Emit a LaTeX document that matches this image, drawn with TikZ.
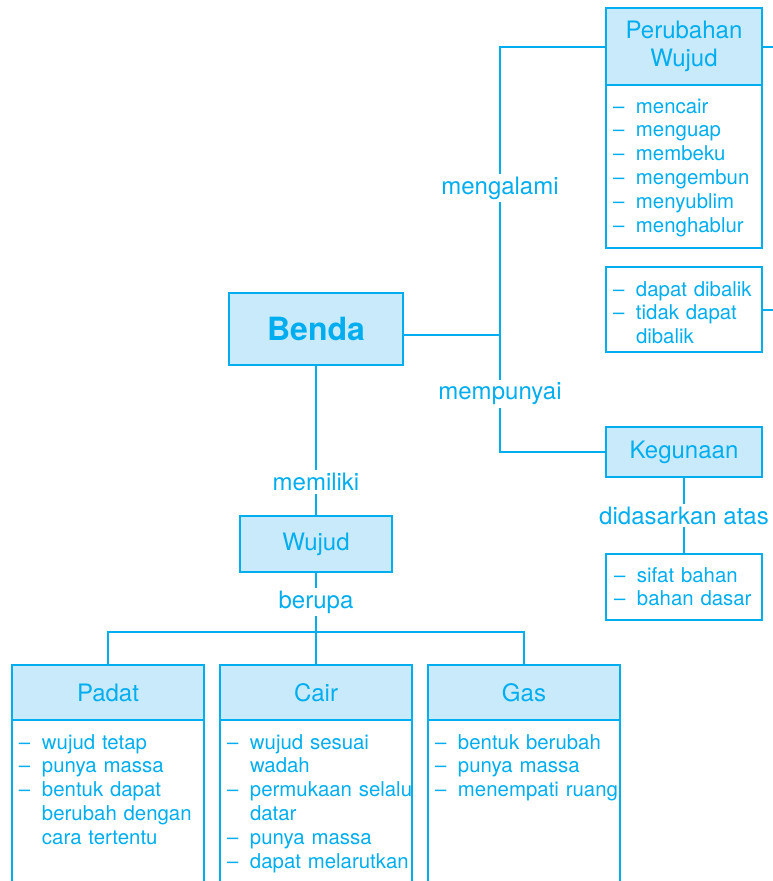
\documentclass[tikz,border=0pt]{standalone}
\usepackage{fontspec}
\setmainfont{TeX Gyre Heros}
\usetikzlibrary{positioning}
\definecolor{bendacyan}{HTML}{00AEEF}
\definecolor{bendafill}{HTML}{C8EAFB}
\newcommand{\itm}[1]{\mbox{\makebox[23pt][l]{\textendash}#1}}
\newcommand{\cnt}[1]{\mbox{\hspace*{23pt}#1}}

\begin{document}
\begin{tikzpicture}[x=1pt,y=1pt,
  ln/.style={draw=bendacyan,line width=2pt},
  head/.style={draw=bendacyan,fill=bendafill,line width=2pt,text=bendacyan,outer sep=0pt,
    font=\fontsize{24}{28}\selectfont,align=center,inner sep=0pt},
  lst/.style={draw=bendacyan,line width=2pt,text=bendacyan,outer sep=0pt,anchor=north,
    font=\fontsize{20.4}{23.8}\selectfont,align=left,inner xsep=7pt,
    text height=15pt,inner ysep=14pt},
  open/.style={lst,text depth=300pt},
  lbl/.style={fill=white,text=bendacyan,font=\fontsize{24}{28}\selectfont,inner sep=3pt}]
\clip (0,0) rectangle (773,-881);

% boxes
\node[head,minimum width=174pt,minimum height=72pt,font=\fontsize{32}{36}\selectfont\bfseries] (benda) at (316,-329) {Benda};
\node[head,minimum width=156pt,minimum height=77pt] (pw) at (684,-46.5) {Perubahan\\Wujud};
\node[lst,text width=142pt,inner ysep=13pt,text depth=122pt] (pwlist) at (pw.south)
  {\itm{mencair}\\\itm{menguap}\\\itm{membeku}\\\itm{mengembun}\\\itm{menyublim}\\\itm{menghablur}};
\node[lst,text width=142pt,text depth=42pt] (dibalik) at (684,-267)
  {\itm{dapat dibalik}\\\itm{tidak dapat}\\\cnt{dibalik}};
\node[head,minimum width=156pt,minimum height=50pt] (kegunaan) at (684,-452) {Kegunaan};
\node[lst,text width=140pt,inner xsep=8pt,inner ysep=13pt,text depth=25pt] (bahan) at (684,-554)
  {\itm{sifat bahan}\\\itm{bahan dasar}};
\node[head,minimum width=152pt,minimum height=56pt] (wujud) at (316,-544) {Wujud};

\node[head,minimum width=192pt,minimum height=55pt] (padat) at (108,-692.5) {Padat};
\node[head,minimum width=192pt,minimum height=55pt] (cair) at (316,-692.5) {Cair};
\node[head,minimum width=192pt,minimum height=55pt] (gas) at (524,-692.5) {Gas};
\node[open,text width=178pt] (padatlist) at (padat.south)
  {\itm{wujud tetap}\\\itm{punya massa}\\\itm{bentuk dapat}\\\cnt{berubah dengan}\\\cnt{cara tertentu}};
\node[open,text width=178pt] (cairlist) at (cair.south)
  {\itm{wujud sesuai}\\\cnt{wadah}\\\itm{permukaan selalu}\\\cnt{datar}\\\itm{punya massa}\\\itm{dapat melarutkan}};
\node[open,text width=178pt] (gaslist) at (gas.south)
  {\itm{bentuk berubah}\\\itm{punya massa}\\\itm{menempati ruang}};

% connectors
\coordinate (hub) at (500,-335);
\coordinate (split) at (316,-632);
\coordinate (pwexit) at (785,-46.5);
\coordinate (dibalikexit) at (785,-309.5);
\draw[ln] (pw) -| (hub) |- (kegunaan);
\draw[ln] (benda.east |- hub) -- (hub);
\draw[ln] (pw) -- (pwexit);
\draw[ln] (dibalik.east |- dibalikexit) -- (dibalikexit);
\draw[ln] (benda) -- (wujud) node[pos=0.775,lbl] {memiliki};
\draw[ln] (wujud) -- (split) node[midway,lbl] {berupa};
\draw[ln] (padat) |- (split) -| (gas);
\draw[ln] (split) -- (cair);
\draw[ln] (kegunaan) -- (bahan) node[midway,lbl] {didasarkan atas};

% labels
\node[lbl] (mengalami) at (500,-188) {mengalami};
\node[lbl] (mempunyai) at (500,-394) {mempunyai};
\end{tikzpicture}
\end{document}
